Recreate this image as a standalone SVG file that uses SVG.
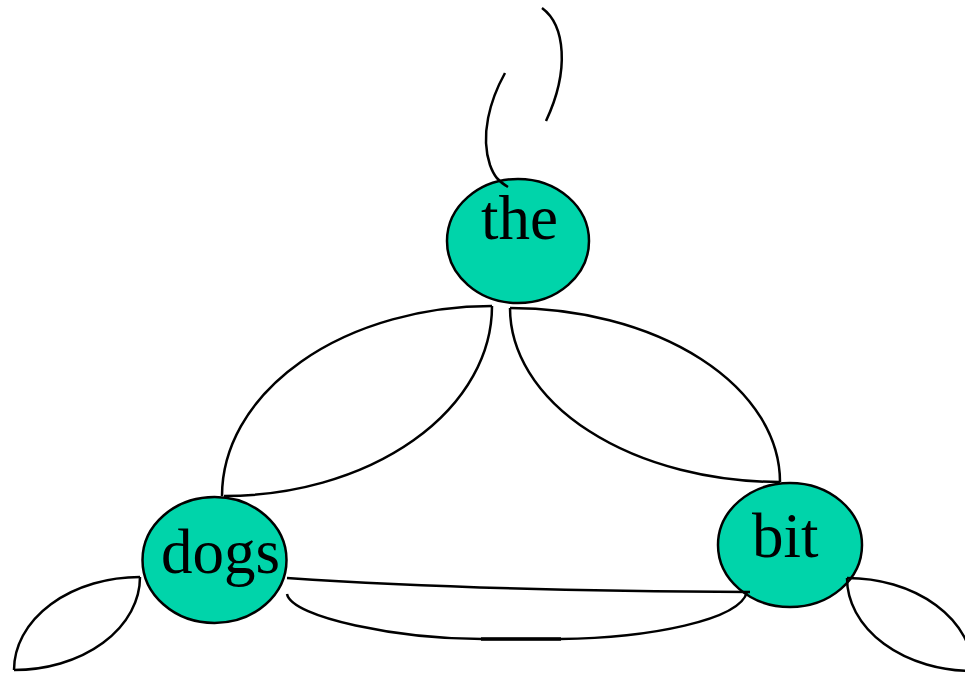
<svg xmlns="http://www.w3.org/2000/svg" width="965" height="675" viewBox="0 0 965 675">
<style>
.node ellipse{fill:#00d4aa;stroke:#000;stroke-width:2.5}
.node text{font-family:"Liberation Serif","Times New Roman",serif;font-size:63px;fill:#000}
.edge{fill:none;stroke:#000;stroke-width:2.5}
</style>
<rect width="965" height="675" fill="#fff"/>
<g id="node-the" class="node">
<ellipse cx="518" cy="241" rx="71" ry="62"/>
<text x="481" y="239">the</text>
</g>
<g id="node-dogs" class="node">
<ellipse cx="214.5" cy="560" rx="72" ry="63"/>
<text x="161" y="573">dogs</text>
</g>
<g id="node-bit" class="node">
<ellipse cx="790" cy="545" rx="72" ry="62"/>
<text x="752" y="557">bit</text>
</g>
<g id="connectors">
<path class="edge" d="M505,73 C490,100 480,135 490,165 C494,176 498,181 508,187"/>
<path class="edge" d="M542,8 C565,25 570,70 546,121"/>
<path class="edge" d="M222,496 A270,190 0 0 1 492,306"/>
<path class="edge" d="M224,496 A268,190 0 0 0 492,306"/>
<path class="edge" d="M510,308 A270,174 0 0 1 780,482"/>
<path class="edge" d="M510,308 A270,174 0 0 0 780,482"/>
<path class="edge" d="M287,578 Q480,591 750,592"/>
<path class="edge" d="M287,594 C292,618 400,639 482,639 L560,639 C650,638 740,620 747,592"/>
<path class="edge" d="M481,639 L561,639" style="stroke-width:3.5"/>
<path class="edge" d="M14,670 A126,93 0 0 1 140,577"/>
<path class="edge" d="M14,670 A126,93 0 0 0 140,577"/>
<path class="edge" d="M847,578 A126,93 0 0 1 973,671"/>
<path class="edge" d="M847,578 A126,93 0 0 0 973,671"/>
</g>
</svg>
